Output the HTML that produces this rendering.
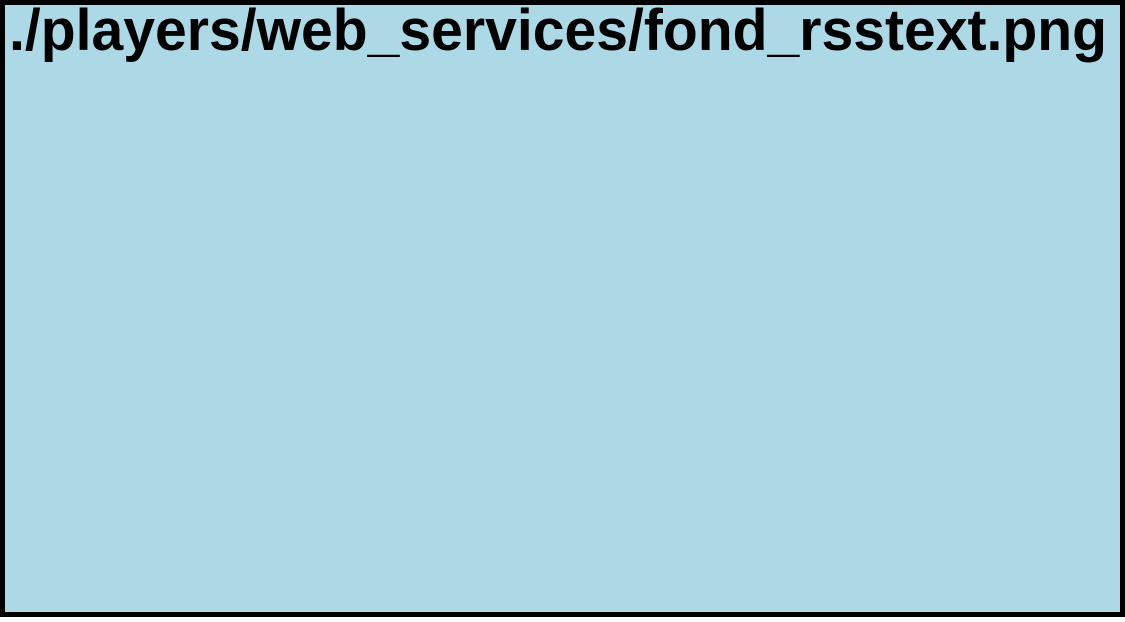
<!DOCTYPE html>
<html><head><style>
html,body{margin:0;padding:0;}
body{width:1125px;height:617px;overflow:hidden;}
</style></head><body>
<svg width="1125" height="617" xmlns="http://www.w3.org/2000/svg">
<rect x="2.5" y="2.5" width="1120" height="612" fill="#add8e6" stroke="#000" stroke-width="5"/>
<text x="9" y="50" font-family="Liberation Sans, Arial, sans-serif" font-weight="bold" font-size="58" textLength="1098" lengthAdjust="spacingAndGlyphs" fill="#000">./players/web_services/fond_rsstext.png</text>
</svg>
</body></html>
